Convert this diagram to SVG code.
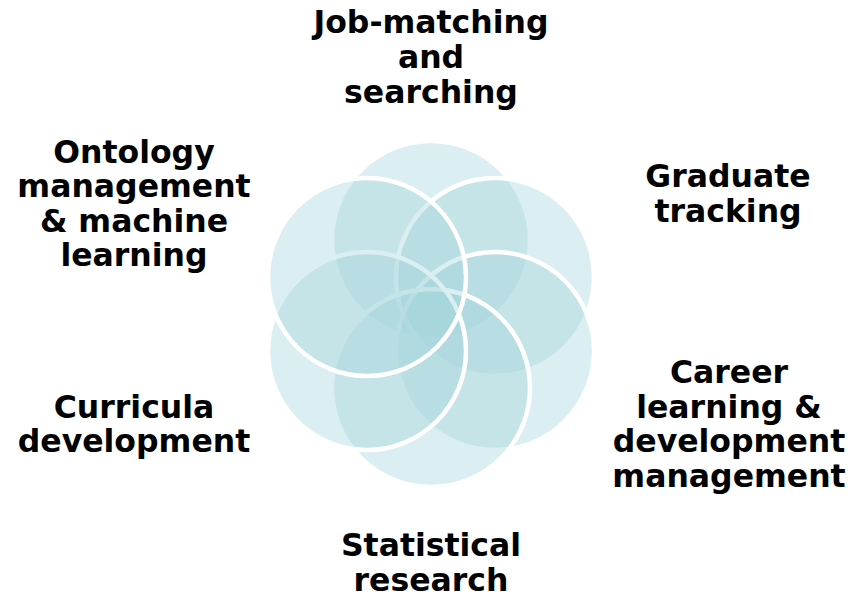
<svg xmlns="http://www.w3.org/2000/svg" width="852" height="600" viewBox="0 0 852 600">
<style>
.c{fill:rgb(165,213,220);fill-opacity:0.4;stroke:#ffffff;stroke-width:4.5}
.t{font-family:"DejaVu Sans",Verdana,sans-serif;font-weight:bold;font-size:31.5px;fill:#000;text-anchor:middle}
</style>
<rect width="852" height="600" fill="#ffffff"/>
<g id="circles">
<g id="c1"><circle class="c" cx="431" cy="240" r="99"/></g>
<g id="c2"><circle class="c" cx="495" cy="277" r="99"/></g>
<g id="c3"><circle class="c" cx="495" cy="351" r="99"/></g>
<g id="c4"><circle class="c" cx="431" cy="388" r="99"/></g>
<g id="c5"><circle class="c" cx="367" cy="351" r="99"/></g>
<g id="c6"><circle class="c" cx="367" cy="277" r="99"/></g>
</g>
<g id="connectors"></g>
<g id="n1"><text class="t" x="431" y="33">Job-matching</text><text class="t" x="431" y="68">and</text><text class="t" x="431" y="103">searching</text></g>
<g id="n2"><text class="t" x="728" y="187">Graduate</text><text class="t" x="728" y="222">tracking</text></g>
<g id="n3"><text class="t" x="729" y="383">Career</text><text class="t" x="729" y="418">learning &amp;</text><text class="t" x="729" y="452">development</text><text class="t" x="729" y="487">management</text></g>
<g id="n4"><text class="t" x="431" y="556">Statistical</text><text class="t" x="431" y="591">research</text></g>
<g id="n5"><text class="t" x="134" y="418">Curricula</text><text class="t" x="134" y="452">development</text></g>
<g id="n6"><text class="t" x="134" y="163">Ontology</text><text class="t" x="134" y="197">management</text><text class="t" x="134" y="232">&amp; machine</text><text class="t" x="134" y="266">learning</text></g>
</svg>
